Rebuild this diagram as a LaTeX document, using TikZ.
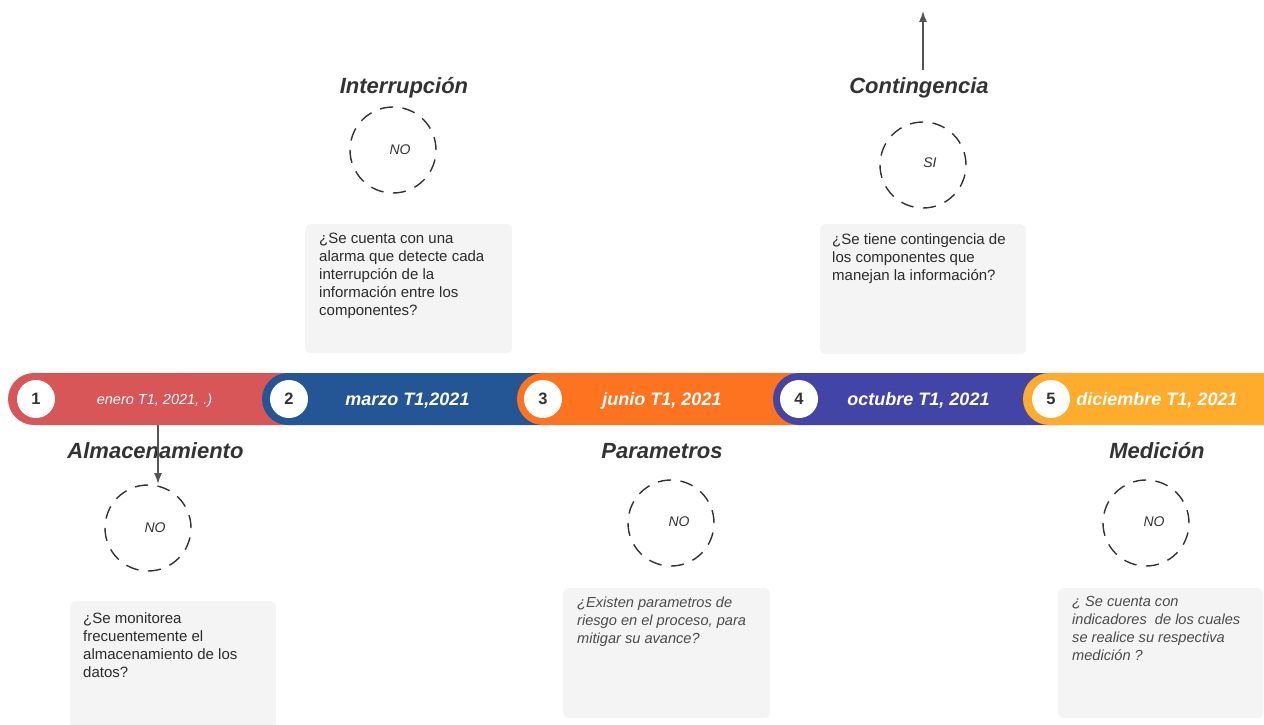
\documentclass[tikz,border=0pt]{standalone}
\usepackage{fontspec}
\setmainfont{Liberation Sans}
\usetikzlibrary{arrows.meta}
\definecolor{cA}{HTML}{D85558}
\definecolor{cB}{HTML}{245696}
\definecolor{cC}{HTML}{FE7320}
\definecolor{cD}{HTML}{4245A6}
\definecolor{cE}{HTML}{FFAC2C}
\definecolor{ink}{HTML}{333333}
\definecolor{boxfill}{HTML}{F4F4F4}
\definecolor{qink}{HTML}{2B2B2B}
\definecolor{qinkb}{HTML}{4A4A4A}
\definecolor{arrowc}{HTML}{555555}
\begin{document}
\begin{tikzpicture}[x=1pt,y=-1pt,
 seg/.style={rounded corners=26pt},
 num/.style={circle, fill=white, minimum size=38pt, inner sep=0pt, text=ink, font=\bfseries\fontsize{16.5}{18}\selectfont},
 barlabel/.style={anchor=base, text=white, inner sep=0pt, font=\bfseries\itshape\fontsize{18}{20}\selectfont},
 title/.style={anchor=base, text=ink, inner sep=0pt, font=\bfseries\itshape\fontsize{22}{26}\selectfont},
 ring/.style={circle, draw=ink, line width=1.4pt, dash pattern=on 13pt off 9.5pt, minimum size=86pt, inner sep=0pt},
 ringtext/.style={anchor=base, text=ink, inner sep=0pt, font=\itshape\fontsize{14}{16}\selectfont},
 qbox/.style={fill=boxfill, rounded corners=5pt, anchor=north west, inner sep=0pt},
 qtext/.style={anchor=north west, align=left, inner sep=0pt, text=qink, font=\fontsize{15}{18}\selectfont},
 qtexti/.style={anchor=north west, align=left, inner sep=0pt, text=qinkb, font=\itshape\fontsize{14.6}{18}\selectfont},
 arr/.style={draw=arrowc, line width=1.3pt, -{Latex[length=11pt,width=8pt]}}
]
\useasboundingbox (0,0) rectangle (1264,725);
\clip (0,0) rectangle (1264,725);

% timeline bar
\fill[cA, seg] (8,373) rectangle (322,425);
\fill[cB, seg] (262,373) rectangle (577,425);
\fill[cC, seg] (517,373) rectangle (833,425);
\fill[cD, seg] (773,373) rectangle (1083,425);
\fill[cE, seg] (1023,373) rectangle (1300,425);

\node[anchor=base, text=white, inner sep=0pt, font=\itshape\fontsize{14.5}{16}\selectfont] (l1) at (154.5,404.5) {enero T1, 2021, .)};
\node[barlabel] (l2) at (407.5,405.5) {marzo T1,2021};
\node[barlabel] (l3) at (662,405.5) {junio T1, 2021};
\node[barlabel] (l4) at (918.5,405.5) {octubre T1, 2021};
\node[barlabel] (l5) at (1157,405.5) {diciembre T1, 2021};

\node[num] (n1) at (36,399) {1};
\node[num] (n2) at (289,399) {2};
\node[num] (n3) at (543,399) {3};
\node[num] (n4) at (799,399) {4};
\node[num] (n5) at (1051,399) {5};

% titles
\node[title] (t1) at (155.5,458) {Almacenamiento};
\node[title] (t2) at (404,93) {Interrupción};
\node[title] (t3) at (662,458) {Parametros};
\node[title] (t4) at (919,93) {Contingencia};
\node[title] (t5) at (1157,458) {Medición};

% dashed circles
\node[ring] (r1) at (148,528) {};
\node[ring] (r2) at (393,150) {};
\node[ring] (r3) at (671,523) {};
\node[ring] (r4) at (923,165) {};
\node[ring] (r5) at (1146,523) {};
\node[ringtext] (s1) at (155,532) {NO};
\node[ringtext] (s2) at (400,154) {NO};
\node[ringtext] (s3) at (679,526) {NO};
\node[ringtext] (s4) at (930,167) {SI};
\node[ringtext] (s5) at (1154,526) {NO};

% question boxes
\node[qbox, minimum width=206pt, minimum height=130pt] (b1) at (70,601) {};
\node[qbox, minimum width=207pt, minimum height=129pt] (b2) at (305,224) {};
\node[qbox, minimum width=207pt, minimum height=130pt] (b3) at (563,588) {};
\node[qbox, minimum width=206pt, minimum height=130pt] (b4) at (820,224) {};
\node[qbox, minimum width=205pt, minimum height=130pt] (b5) at (1058,588) {};

\node[qtext] (q1) at ([shift={(13,11)}]b1.north west) {¿Se monitorea\\frecuentemente el\\almacenamiento de los\\datos?};
\node[qtext] (q2) at ([shift={(14,9)}]b2.north west) {¿Se cuenta con una\\alarma que detecte cada\\interrupción de la\\información entre los\\componentes?};
\node[qtexti] (q3) at ([shift={(14,9)}]b3.north west) {¿Existen parametros de\\riesgo en el proceso, para\\mitigar su avance?};
\node[qtext] (q4) at ([shift={(12,9)}]b4.north west) {¿Se tiene contingencia de\\los componentes que\\manejan la información?};
\node[qtexti] (q5) at ([shift={(14,8)}]b5.north west) {¿ Se cuenta con\\indicadores\ \ de los cuales\\se realice su respectiva\\medición ?};

% arrows
\coordinate (a1s) at (158,425);
\coordinate (a1e) at (158,484);
\draw[arr] (a1s) -- (a1e);
\coordinate (a2s) at (923,70);
\coordinate (a2e) at (923,11);
\draw[arr] (a2s) -- (a2e);
\end{tikzpicture}
\end{document}
